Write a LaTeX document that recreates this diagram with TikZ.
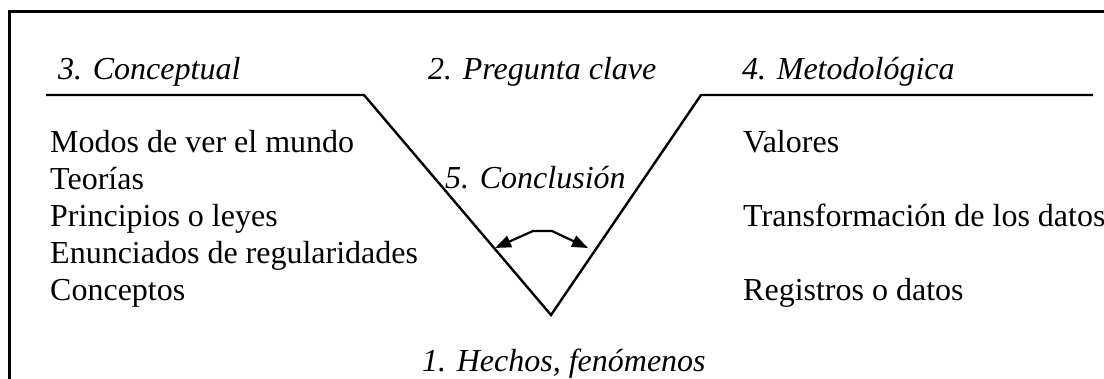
\documentclass[tikz,border=0pt]{standalone}
\usepackage{fontspec}
\setmainfont{Liberation Serif}
\usetikzlibrary{arrows.meta}
\begin{document}
\begin{tikzpicture}[x=1pt,y=-1pt,
  lbl/.style={anchor=base west,inner sep=0pt,font=\fontsize{32}{37}\selectfont},
  hdr/.style={lbl,font=\fontsize{32}{37}\selectfont\itshape},
  vline/.style={line width=2.4pt,line join=miter},
  frameline/.style={line width=3pt},
  dblarrow/.style={line width=2.2pt,{Triangle[length=16pt,width=12pt]}-{Triangle[length=16pt,width=12pt]}}]
\useasboundingbox (0,0) rectangle (1104,378);
% frame (only top and left visible)
\draw[frameline] (9,385) -- (9,11) -- (1110,11);
% V shape
\coordinate (lstart) at (46,95);
\coordinate (lcorner) at (364,95);
\coordinate (vbottom) at (551,315);
\coordinate (rcorner) at (701,95);
\coordinate (rend) at (1093,95);
\draw[vline] (lstart) -- (lcorner) -- (vbottom) -- (rcorner) -- (rend);
% headers
\node[hdr] (conc) at (58,79) {3. Conceptual};
\node[hdr] (preg) at (428,79) {2. Pregunta clave};
\node[hdr] (met) at (742,79) {4. Metodológica};
% left list
\node[lbl] (l1) at (50,152) {Modos de ver el mundo};
\node[lbl] (l2) at (50,189) {Teorías};
\node[lbl] (l3) at (50,226) {Principios o leyes};
\node[lbl] (l4) at (50,263) {Enunciados de regularidades};
\node[lbl] (l5) at (50,300) {Conceptos};
% right list
\node[lbl] (r1) at (743,152) {Valores};
\node[lbl] (r3) at (743,226) {Transformación de los datos};
\node[lbl] (r5) at (743,300) {Registros o datos};
% center
\node[hdr] (concl) at (445,188) {5. Conclusión};
\node[hdr] (hechos) at (422,371) {1. Hechos, fenómenos};
% double arrow
\coordinate (al) at (495,248);
\coordinate (am1) at (533,231);
\coordinate (am2) at (552,231);
\coordinate (ar) at (588,248);
\draw[dblarrow] (al) -- (am1) -- (am2) -- (ar);
\end{tikzpicture}
\end{document}
